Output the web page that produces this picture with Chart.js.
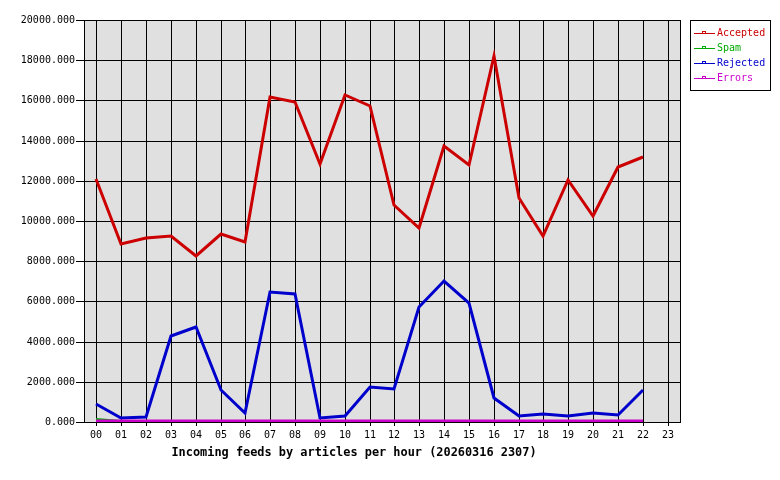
<!DOCTYPE html>
<html>
<head>
<meta charset="utf-8">
<script src="https://cdn.jsdelivr.net/npm/chart.js@4.4.1/dist/chart.umd.min.js"></script>
<style>
  html, body { margin: 0; padding: 0; background: #fff; }
</style>
</head>
<body>
<canvas id="feeds" width="780" height="480"></canvas>
<script>
const hours = ['00','01','02','03','04','05','06','07','08','09','10','11',
               '12','13','14','15','16','17','18','19','20','21','22','23'];

const accepted = [12100, 8850, 9150, 9250, 8260, 9350, 8950, 16170, 15920, 12840, 16270, 15720,
                  10800, 9650, 13730, 12790, 18210, 11140, 9250, 12040, 10250, 12690, 13180, null];
const spam     = [130, 40, 40, 40, 40, 40, 40, 40, 40, 40, 40, 40,
                  40, 40, 40, 40, 40, 40, 40, 40, 40, 40, 40, null];
const rejected = [880, 180, 230, 4280, 4730, 1590, 450, 6450, 6370, 215, 315, 1740,
                  1660, 5700, 7015, 5935, 1190, 300, 400, 300, 460, 350, 1590, null];
const errors   = [40, 40, 40, 40, 40, 40, 40, 40, 40, 40, 40, 40,
                  40, 40, 40, 40, 40, 40, 40, 40, 40, 40, 40, null];

const yTicks = [0, 2000, 4000, 6000, 8000, 10000, 12000, 14000, 16000, 18000, 20000];

const xTitle = 'Incoming feeds by articles per hour (20260316 2307)';

const mono = "'DejaVu Sans Mono', 'Liberation Mono', monospace";

// grey plot background + black frame
const plotFrame = {
    id: 'plotFrame',
    beforeDraw(chart) {
        const {ctx, chartArea: a} = chart;
        ctx.save();
        ctx.fillStyle = '#e0e0e0';
        ctx.fillRect(a.left, a.top, a.right - a.left, a.bottom - a.top);
        ctx.restore();
    },
    beforeDatasetsDraw(chart) {
        const {ctx, chartArea: a} = chart;
        ctx.save();
        ctx.strokeStyle = '#000';
        ctx.lineWidth = 1;
        ctx.strokeRect(Math.round(a.left) + 0.5, Math.round(a.top) + 0.5,
                       Math.round(a.right - a.left), Math.round(a.bottom - a.top));
        ctx.restore();
    }
};

// legend box at the right and the caption under the axis, like the original
const boxLegend = {
    id: 'boxLegend',
    afterDraw(chart) {
        const ctx = chart.ctx;
        const x = 690.5, y = 20.5, w = 80, h = 70;
        ctx.save();
        ctx.fillStyle = '#fff';
        ctx.fillRect(x, y, w, h);
        ctx.strokeStyle = '#000';
        ctx.lineWidth = 1;
        ctx.strokeRect(x, y, w, h);
        ctx.font = '10px ' + mono;
        ctx.textBaseline = 'middle';
        chart.data.datasets.forEach((ds, i) => {
            const ly = 33.5 + i * 15;
            ctx.strokeStyle = ds.borderColor;
            ctx.beginPath();
            ctx.moveTo(694, ly);
            ctx.lineTo(715, ly);
            ctx.stroke();
            ctx.strokeRect(702.5, ly - 2, 3, 2);
            ctx.fillStyle = ds.borderColor;
            ctx.fillText(ds.label, 717, ly);
        });

        ctx.fillStyle = '#000';
        ctx.font = 'bold 11.9px ' + mono;
        ctx.textAlign = 'center';
        ctx.fillText(xTitle, 354, 452.5);
        ctx.restore();
    }
};

new Chart(document.getElementById('feeds'), {
    type: 'line',
    data: {
        labels: hours,
        datasets: [
            { label: 'Accepted', data: accepted, borderColor: '#cc0000', borderWidth: 3, order: 4 },
            { label: 'Spam', data: spam, borderColor: '#00aa00', borderWidth: 2, order: 3 },
            { label: 'Rejected', data: rejected, borderColor: '#0000cc', borderWidth: 3, order: 2 },
            { label: 'Errors', data: errors, borderColor: '#cc00cc', borderWidth: 3, order: 1 }
        ]
    },
    options: {
        responsive: false,
        animation: false,
        devicePixelRatio: 1,
        layout: { padding: { left: 0, right: 100, top: 20, bottom: 0 } },
        elements: {
            point: { radius: 0 },
            line: { tension: 0, fill: false, borderJoinStyle: 'miter' }
        },
        plugins: {
            legend: { display: false },
            tooltip: { enabled: false }
        },
        scales: {
            x: {
                type: 'category',
                offset: true,
                alignToPixels: true,
                grid: { color: '#000', lineWidth: 1, tickLength: 4, offset: false },
                border: { display: false },
                ticks: { color: '#000', font: { family: mono, size: 10 }, padding: 3,
                         maxRotation: 0, autoSkip: false },
                afterFit(s) { s.height = 58; }
            },
            y: {
                min: 0,
                max: 20000,
                alignToPixels: true,
                afterBuildTicks(s) { s.ticks = yTicks.map(v => ({ value: v })); },
                grid: { color: '#000', lineWidth: 1, tickLength: 8 },
                border: { display: false },
                ticks: { color: '#000', font: { family: mono, size: 10 }, padding: 1,
                         callback: v => v.toFixed(3) },
                afterFit(s) { s.width = 84; }
            }
        }
    },
    plugins: [plotFrame, boxLegend]
});
</script>
</body>
</html>
